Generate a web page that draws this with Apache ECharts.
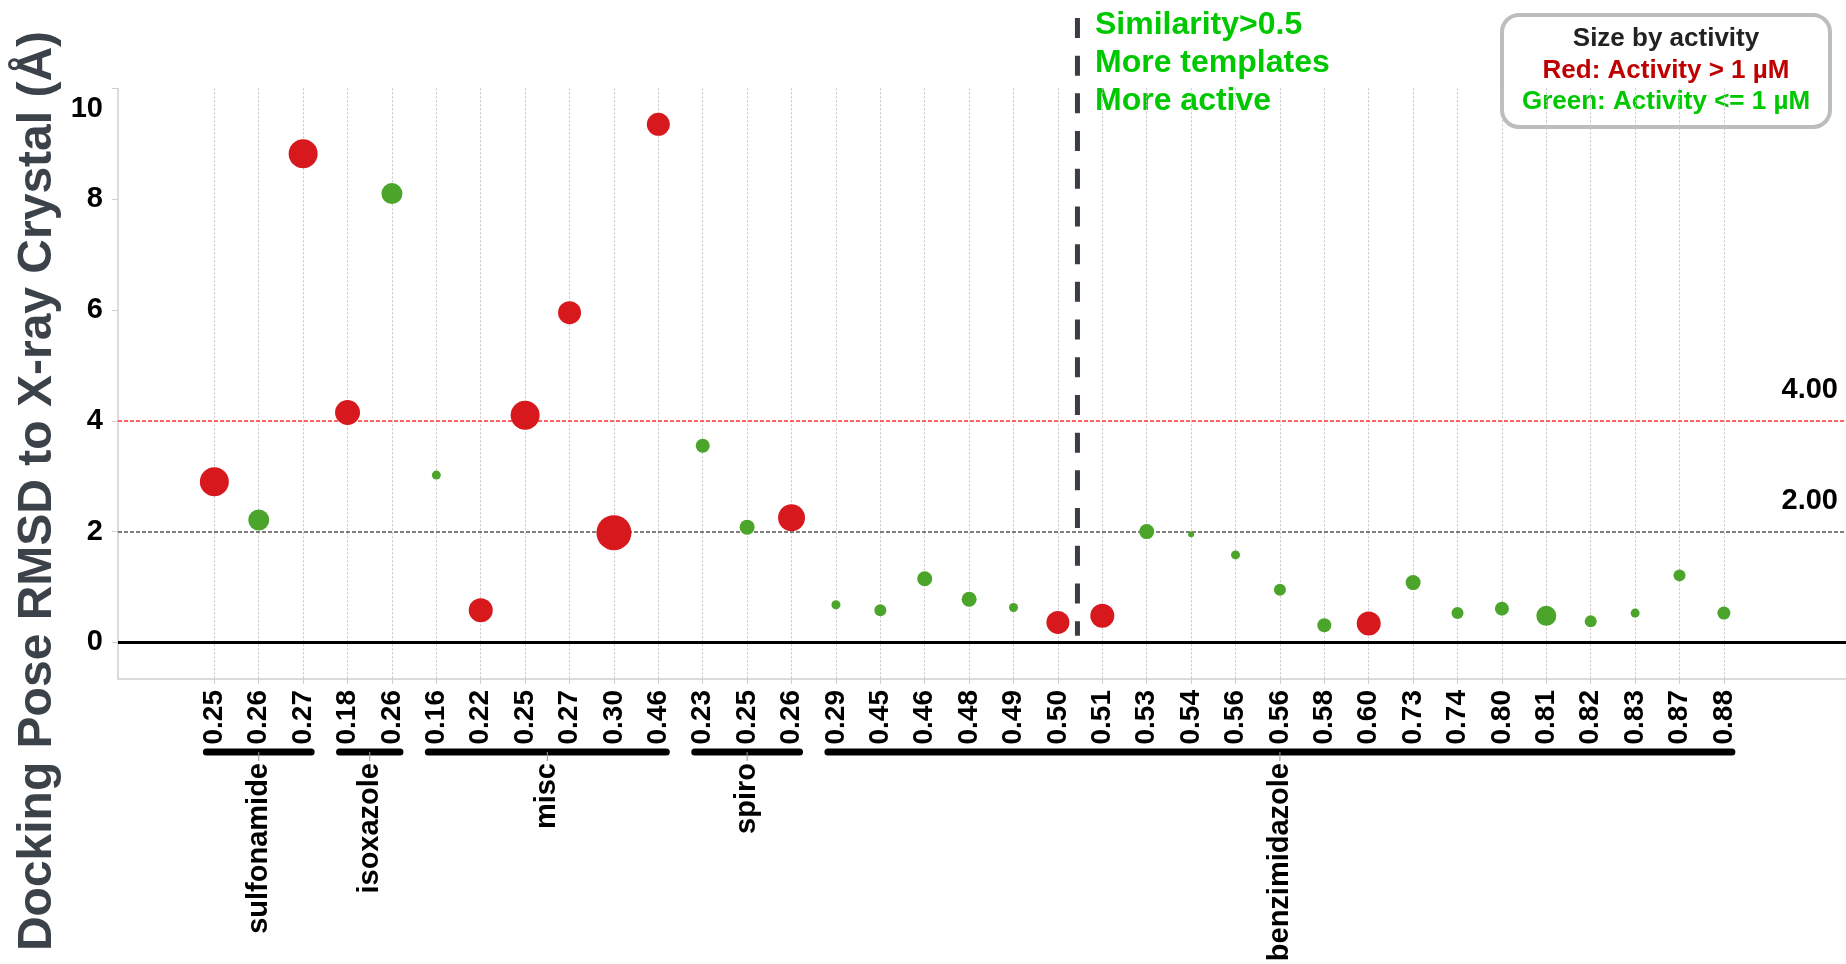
<!DOCTYPE html>
<html><head><meta charset="utf-8">
<script src="https://cdn.jsdelivr.net/npm/echarts@6/dist/echarts.min.js"></script>
<style>html,body{margin:0;padding:0;background:#fff}#c{width:1846px;height:964px}</style>
</head><body><div id="c"></div>
<script>
// ---- data ----
const similarity = ['0.25','0.26','0.27','0.18','0.26','0.16','0.22','0.25','0.27','0.30','0.46','0.23','0.25','0.26','0.29','0.45','0.46','0.48','0.49','0.50','0.51','0.53','0.54','0.56','0.56','0.58','0.60','0.73','0.74','0.80','0.81','0.82','0.83','0.87','0.88'];
const rmsd = [2.90,2.21,8.82,4.15,8.10, 3.02,0.58,4.10,5.95,1.98, 9.35,3.55,2.08,2.25,0.68, 0.58,1.15,0.78,0.63,0.36, 0.48,2.00,1.95,1.58,0.95, 0.31,0.34,1.08,0.53,0.61, 0.48,0.38,0.53,1.21,0.53];
// 1 = green (activity <= 1 µM), 0 = red (activity > 1 µM)
const active = [0,1,0,0,1, 1,0,0,0,0, 0,1,1,0,1, 1,1,1,1,0, 0,1,1,1,1, 1,0,1,1,1, 1,1,1,1,1];
const markerSize = [29,21,29,25,21, 9,24,29,23,35, 23,14,15,27,9, 12,15,15,9,23, 24,15,6,9,12, 14,24,15,12,14, 20,12,9,12,13];
const groups = ['sulfonamide','isoxazole','misc','spiro','benzimidazole'];
const groupStart = [0,3,5,11,14];
const groupEnd = [2,4,10,13,34];
const yTicks = [0,2,4,6,8,10];
const thresholdLines = [2,4];
const similarityCut = 19.44;      // between 0.50 and 0.51
const cutLineRange = [11.27, 0.12];
const Y_MIN = -0.66, Y_MAX = 10;
const X_MIN = -2.17, X_MAX = 36.75;

const FONT = '"Liberation Sans", Arial, Helvetica, sans-serif';
const RED = '#d7191e', GREEN = '#4aa52a';
const idx = similarity.map((_, i) => i);

const redData = [], greenData = [];
idx.forEach(i => {
  const pt = [i, rmsd[i], markerSize[i]];
  (active[i] ? greenData : redData).push(pt);
});

const chart = echarts.init(document.getElementById('c'), null, {renderer: 'canvas'});
chart.setOption({
  animation: false,
  backgroundColor: '#ffffff',
  grid: {left: 118, right: 0, top: 88.3, bottom: 285, containLabel: false},
  xAxis: {
    type: 'value', min: X_MIN, max: X_MAX,
    axisLine: {show: true, onZero: false, lineStyle: {color: '#cfcfcf', width: 1.5}},
    axisTick: {show: true, customValues: idx, length: 5, lineStyle: {color: '#cfcfcf'}},
    axisLabel: {customValues: idx, rotate: 90, margin: 11, formatter: v => similarity[v],
      fontSize: 28, fontWeight: 'bold', color: '#000', fontFamily: FONT},
    splitLine: {show: true, lineStyle: {color: '#c4c4c4', type: [2, 2], width: 1}}
  },
  yAxis: {
    type: 'value', min: Y_MIN, max: Y_MAX,
    axisLine: {show: true, onZero: false, lineStyle: {color: '#cfcfcf', width: 1.5}},
    axisTick: {show: true, customValues: yTicks, length: 6, lineStyle: {color: '#cfcfcf'}},
    axisLabel: {customValues: yTicks, margin: 15,
      formatter: v => v === 10 ? '{t|10}' : String(v),
      fontSize: 29, fontWeight: 'bold', color: '#000', fontFamily: FONT,
      rich: {t: {fontSize: 29, fontWeight: 'bold', color: '#000', fontFamily: FONT, padding: [42, 0, 0, 0]}}},
    splitLine: {show: false}
  },
  series: [
    {
      type: 'scatter', name: 'Activity > 1 µM', data: redData,
      symbolSize: v => v[2], itemStyle: {color: RED, opacity: 1}, z: 5
    },
    {
      type: 'scatter', name: 'Activity <= 1 µM', data: greenData,
      symbolSize: v => v[2], itemStyle: {color: GREEN, opacity: 1}, z: 5,
      markLine: {
        silent: true, symbol: 'none', animation: false,
        data: [
          {yAxis: 0, lineStyle: {color: '#000', width: 3, type: 'solid'}, label: {show: false}},
          {yAxis: thresholdLines[0], lineStyle: {color: '#555', width: 1.5, type: [4, 2]},
            label: {show: true, position: 'insideEndTop', formatter: p => p.value.toFixed(2), distance: [8, 16],
              fontSize: 29, fontWeight: 'bold', color: '#000', fontFamily: FONT}},
          {yAxis: thresholdLines[1], lineStyle: {color: '#ff3030', width: 1.5, type: [4, 2]},
            label: {show: true, position: 'insideEndTop', formatter: p => p.value.toFixed(2), distance: [8, 16],
              fontSize: 29, fontWeight: 'bold', color: '#000', fontFamily: FONT}}
        ]
      }
    },
    {
      type: 'custom', name: 'groups', clip: false, silent: true, z: 10,
      data: groups.map((g, i) => [groupStart[i], groupEnd[i], Y_MIN, i]),
      encode: {x: [0, 1], y: 2},
      renderItem: (params, api) => {
        const s = api.coord([api.value(0), api.value(2)]);
        const e = api.coord([api.value(1), api.value(2)]);
        const yb = s[1];
        const cx = (s[0] + e[0]) / 2;
        const name = groups[api.value(3)];
        return {type: 'group', children: [
          {type: 'line', shape: {x1: s[0] - 8, y1: yb + 73, x2: e[0] + 8, y2: yb + 73},
            style: {stroke: '#000', lineWidth: 7, lineCap: 'round'}},
          {type: 'line', shape: {x1: cx, y1: yb + 73, x2: cx, y2: yb + 82},
            style: {stroke: '#999', lineWidth: 1}},
          {type: 'text', x: cx, y: yb + 84, rotation: Math.PI / 2,
            style: {text: name, x: 0, y: 0, align: 'right', verticalAlign: 'middle',
              font: 'bold 29px ' + FONT, fill: '#000'}}
        ]};
      }
    },
    {
      type: 'custom', name: 'similarity cut', clip: false, silent: true, z: 8,
      data: [[similarityCut, cutLineRange[0], cutLineRange[1]]],
      encode: {x: 0, y: [1, 2]},
      renderItem: (params, api) => {
        const p1 = api.coord([api.value(0), api.value(1)]);
        const p2 = api.coord([api.value(0), api.value(2)]);
        return {type: 'line', shape: {x1: p1[0], y1: p1[1], x2: p2[0], y2: p2[1]},
          style: {stroke: '#3a3f47', lineWidth: 5, lineDash: [20, 17.7]}};
      }
    }
  ],
  graphic: [
    {type: 'text', x: 38, y: 491, rotation: Math.PI / 2,
      style: {text: 'Docking Pose RMSD to X-ray Crystal (Å)', x: 0, y: 0, align: 'center', verticalAlign: 'middle',
        font: 'bold 48px ' + FONT, fill: '#3c4249'}},
    {type: 'group', children: [
      {type: 'text', x: 1095, y: 25, style: {text: 'Similarity>0.5', align: 'left', verticalAlign: 'middle', font: 'bold 32px ' + FONT, fill: '#00c800'}},
      {type: 'text', x: 1095, y: 63, style: {text: 'More templates', align: 'left', verticalAlign: 'middle', font: 'bold 32px ' + FONT, fill: '#00c800'}},
      {type: 'text', x: 1095, y: 101, style: {text: 'More active', align: 'left', verticalAlign: 'middle', font: 'bold 32px ' + FONT, fill: '#00c800'}}
    ]},
    {type: 'group', children: [
      {type: 'rect', shape: {x: 1502, y: 15, width: 328, height: 112, r: 17},
        style: {fill: '#fff', stroke: '#bdbdbd', lineWidth: 4}},
      {type: 'text', x: 1666, y: 39, style: {text: 'Size by activity', align: 'center', verticalAlign: 'middle', font: 'bold 26px ' + FONT, fill: '#222'}},
      {type: 'text', x: 1666, y: 71, style: {text: 'Red: Activity > 1 µM', align: 'center', verticalAlign: 'middle', font: 'bold 26px ' + FONT, fill: '#c00000'}},
      {type: 'text', x: 1666, y: 102, style: {text: 'Green: Activity <= 1 µM', align: 'center', verticalAlign: 'middle', font: 'bold 26px ' + FONT, fill: '#00c800'}}
    ]}
  ]
});
</script></body></html>
